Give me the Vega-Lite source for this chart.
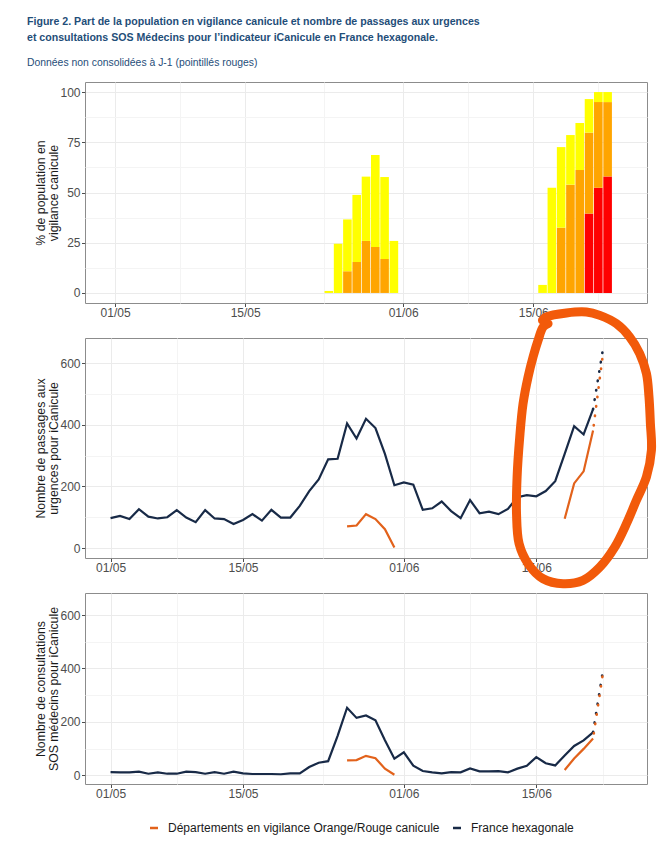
{
  "$schema": "https://vega.github.io/schema/vega-lite/v6.json",
  "padding": {"left": 27, "top": 16, "right": 5, "bottom": 5},
  "background": "white",
  "bounds": "flush",
  "spacing": 35,
  "title": {
    "text": [
      "Figure 2. Part de la population en vigilance canicule et nombre de passages aux urgences",
      "et consultations SOS Médecins pour l’indicateur iCanicule en France hexagonale."
    ],
    "subtitle": "Données non consolidées à J-1 (pointillés rouges)",
    "anchor": "start",
    "frame": "group",
    "dx": -58,
    "offset": 13,
    "font": "Liberation Sans",
    "fontSize": 10.6,
    "fontWeight": "bold",
    "color": "#1F4E79",
    "lineHeight": 16,
    "subtitleFont": "Liberation Sans",
    "subtitleFontSize": 10.4,
    "subtitleColor": "#1F4E79",
    "subtitlePadding": 15
  },
  "datasets": {
    "vigilance": [
      {"date": "2025-05-24", "niveau": "Jaune", "part": 1},
      {"date": "2025-05-25", "niveau": "Jaune", "part": 24.5},
      {"date": "2025-05-26", "niveau": "Orange", "part": 10.8},
      {"date": "2025-05-26", "niveau": "Jaune", "part": 25.8},
      {"date": "2025-05-27", "niveau": "Orange", "part": 15.4},
      {"date": "2025-05-27", "niveau": "Jaune", "part": 33.4},
      {"date": "2025-05-28", "niveau": "Orange", "part": 25.9},
      {"date": "2025-05-28", "niveau": "Jaune", "part": 32},
      {"date": "2025-05-29", "niveau": "Orange", "part": 22.9},
      {"date": "2025-05-29", "niveau": "Jaune", "part": 45.8},
      {"date": "2025-05-30", "niveau": "Orange", "part": 16.9},
      {"date": "2025-05-30", "niveau": "Jaune", "part": 40.8},
      {"date": "2025-05-31", "niveau": "Jaune", "part": 25.9},
      {"date": "2025-06-16", "niveau": "Jaune", "part": 4},
      {"date": "2025-06-17", "niveau": "Jaune", "part": 52.4},
      {"date": "2025-06-18", "niveau": "Orange", "part": 32.5},
      {"date": "2025-06-18", "niveau": "Jaune", "part": 40.1},
      {"date": "2025-06-19", "niveau": "Orange", "part": 53.9},
      {"date": "2025-06-19", "niveau": "Jaune", "part": 24.7},
      {"date": "2025-06-20", "niveau": "Orange", "part": 61.2},
      {"date": "2025-06-20", "niveau": "Jaune", "part": 23.4},
      {"date": "2025-06-21", "niveau": "Rouge", "part": 39.5},
      {"date": "2025-06-21", "niveau": "Orange", "part": 40.3},
      {"date": "2025-06-21", "niveau": "Jaune", "part": 16.7},
      {"date": "2025-06-22", "niveau": "Rouge", "part": 52.4},
      {"date": "2025-06-22", "niveau": "Orange", "part": 42.6},
      {"date": "2025-06-22", "niveau": "Jaune", "part": 5},
      {"date": "2025-06-23", "niveau": "Rouge", "part": 58},
      {"date": "2025-06-23", "niveau": "Orange", "part": 37},
      {"date": "2025-06-23", "niveau": "Jaune", "part": 5}
    ],
    "urgences": [
      {"date": "2025-05-01", "serie": "France hexagonale", "episode": "toute", "nombre": 97},
      {"date": "2025-05-02", "serie": "France hexagonale", "episode": "toute", "nombre": 104},
      {"date": "2025-05-03", "serie": "France hexagonale", "episode": "toute", "nombre": 94},
      {"date": "2025-05-04", "serie": "France hexagonale", "episode": "toute", "nombre": 126},
      {"date": "2025-05-05", "serie": "France hexagonale", "episode": "toute", "nombre": 102},
      {"date": "2025-05-06", "serie": "France hexagonale", "episode": "toute", "nombre": 96},
      {"date": "2025-05-07", "serie": "France hexagonale", "episode": "toute", "nombre": 100},
      {"date": "2025-05-08", "serie": "France hexagonale", "episode": "toute", "nombre": 123},
      {"date": "2025-05-09", "serie": "France hexagonale", "episode": "toute", "nombre": 99},
      {"date": "2025-05-10", "serie": "France hexagonale", "episode": "toute", "nombre": 84},
      {"date": "2025-05-11", "serie": "France hexagonale", "episode": "toute", "nombre": 123},
      {"date": "2025-05-12", "serie": "France hexagonale", "episode": "toute", "nombre": 96},
      {"date": "2025-05-13", "serie": "France hexagonale", "episode": "toute", "nombre": 94},
      {"date": "2025-05-14", "serie": "France hexagonale", "episode": "toute", "nombre": 78},
      {"date": "2025-05-15", "serie": "France hexagonale", "episode": "toute", "nombre": 91},
      {"date": "2025-05-16", "serie": "France hexagonale", "episode": "toute", "nombre": 110},
      {"date": "2025-05-17", "serie": "France hexagonale", "episode": "toute", "nombre": 89},
      {"date": "2025-05-18", "serie": "France hexagonale", "episode": "toute", "nombre": 124},
      {"date": "2025-05-19", "serie": "France hexagonale", "episode": "toute", "nombre": 99},
      {"date": "2025-05-20", "serie": "France hexagonale", "episode": "toute", "nombre": 99},
      {"date": "2025-05-21", "serie": "France hexagonale", "episode": "toute", "nombre": 137},
      {"date": "2025-05-22", "serie": "France hexagonale", "episode": "toute", "nombre": 185},
      {"date": "2025-05-23", "serie": "France hexagonale", "episode": "toute", "nombre": 223},
      {"date": "2025-05-24", "serie": "France hexagonale", "episode": "toute", "nombre": 288},
      {"date": "2025-05-25", "serie": "France hexagonale", "episode": "toute", "nombre": 290},
      {"date": "2025-05-26", "serie": "France hexagonale", "episode": "toute", "nombre": 405},
      {"date": "2025-05-27", "serie": "France hexagonale", "episode": "toute", "nombre": 356},
      {"date": "2025-05-28", "serie": "France hexagonale", "episode": "toute", "nombre": 420},
      {"date": "2025-05-29", "serie": "France hexagonale", "episode": "toute", "nombre": 390},
      {"date": "2025-05-30", "serie": "France hexagonale", "episode": "toute", "nombre": 306},
      {"date": "2025-05-31", "serie": "France hexagonale", "episode": "toute", "nombre": 204},
      {"date": "2025-06-01", "serie": "France hexagonale", "episode": "toute", "nombre": 213},
      {"date": "2025-06-02", "serie": "France hexagonale", "episode": "toute", "nombre": 206},
      {"date": "2025-06-03", "serie": "France hexagonale", "episode": "toute", "nombre": 124},
      {"date": "2025-06-04", "serie": "France hexagonale", "episode": "toute", "nombre": 129},
      {"date": "2025-06-05", "serie": "France hexagonale", "episode": "toute", "nombre": 151},
      {"date": "2025-06-06", "serie": "France hexagonale", "episode": "toute", "nombre": 120},
      {"date": "2025-06-07", "serie": "France hexagonale", "episode": "toute", "nombre": 97},
      {"date": "2025-06-08", "serie": "France hexagonale", "episode": "toute", "nombre": 156},
      {"date": "2025-06-09", "serie": "France hexagonale", "episode": "toute", "nombre": 113},
      {"date": "2025-06-10", "serie": "France hexagonale", "episode": "toute", "nombre": 118},
      {"date": "2025-06-11", "serie": "France hexagonale", "episode": "toute", "nombre": 110},
      {"date": "2025-06-12", "serie": "France hexagonale", "episode": "toute", "nombre": 127},
      {"date": "2025-06-13", "serie": "France hexagonale", "episode": "toute", "nombre": 165},
      {"date": "2025-06-14", "serie": "France hexagonale", "episode": "toute", "nombre": 172},
      {"date": "2025-06-15", "serie": "France hexagonale", "episode": "toute", "nombre": 168},
      {"date": "2025-06-16", "serie": "France hexagonale", "episode": "toute", "nombre": 185},
      {"date": "2025-06-17", "serie": "France hexagonale", "episode": "toute", "nombre": 217},
      {"date": "2025-06-18", "serie": "France hexagonale", "episode": "toute", "nombre": 306},
      {"date": "2025-06-19", "serie": "France hexagonale", "episode": "toute", "nombre": 396},
      {"date": "2025-06-20", "serie": "France hexagonale", "episode": "toute", "nombre": 369},
      {"date": "2025-06-21", "serie": "France hexagonale", "episode": "toute", "nombre": 451},
      {"date": "2025-05-26", "serie": "Départements en vigilance Orange/Rouge canicule", "episode": "mai", "nombre": 70},
      {"date": "2025-05-27", "serie": "Départements en vigilance Orange/Rouge canicule", "episode": "mai", "nombre": 73},
      {"date": "2025-05-28", "serie": "Départements en vigilance Orange/Rouge canicule", "episode": "mai", "nombre": 110},
      {"date": "2025-05-29", "serie": "Départements en vigilance Orange/Rouge canicule", "episode": "mai", "nombre": 94},
      {"date": "2025-05-30", "serie": "Départements en vigilance Orange/Rouge canicule", "episode": "mai", "nombre": 61},
      {"date": "2025-05-31", "serie": "Départements en vigilance Orange/Rouge canicule", "episode": "mai", "nombre": 2},
      {"date": "2025-06-18", "serie": "Départements en vigilance Orange/Rouge canicule", "episode": "juin", "nombre": 95},
      {"date": "2025-06-19", "serie": "Départements en vigilance Orange/Rouge canicule", "episode": "juin", "nombre": 210},
      {"date": "2025-06-20", "serie": "Départements en vigilance Orange/Rouge canicule", "episode": "juin", "nombre": 249},
      {"date": "2025-06-21", "serie": "Départements en vigilance Orange/Rouge canicule", "episode": "juin", "nombre": 382}
    ],
    "urgences_j1": [
      {"date": "2025-06-21", "serie": "France hexagonale", "nombre": 451},
      {"date": "2025-06-22", "serie": "France hexagonale", "nombre": 638},
      {"date": "2025-06-21", "serie": "Départements en vigilance Orange/Rouge canicule", "nombre": 382},
      {"date": "2025-06-22", "serie": "Départements en vigilance Orange/Rouge canicule", "nombre": 620}
    ],
    "sos": [
      {"date": "2025-05-01", "serie": "France hexagonale", "episode": "toute", "nombre": 12},
      {"date": "2025-05-02", "serie": "France hexagonale", "episode": "toute", "nombre": 11},
      {"date": "2025-05-03", "serie": "France hexagonale", "episode": "toute", "nombre": 11},
      {"date": "2025-05-04", "serie": "France hexagonale", "episode": "toute", "nombre": 14},
      {"date": "2025-05-05", "serie": "France hexagonale", "episode": "toute", "nombre": 6},
      {"date": "2025-05-06", "serie": "France hexagonale", "episode": "toute", "nombre": 11},
      {"date": "2025-05-07", "serie": "France hexagonale", "episode": "toute", "nombre": 6},
      {"date": "2025-05-08", "serie": "France hexagonale", "episode": "toute", "nombre": 6},
      {"date": "2025-05-09", "serie": "France hexagonale", "episode": "toute", "nombre": 14},
      {"date": "2025-05-10", "serie": "France hexagonale", "episode": "toute", "nombre": 12},
      {"date": "2025-05-11", "serie": "France hexagonale", "episode": "toute", "nombre": 6},
      {"date": "2025-05-12", "serie": "France hexagonale", "episode": "toute", "nombre": 12},
      {"date": "2025-05-13", "serie": "France hexagonale", "episode": "toute", "nombre": 6},
      {"date": "2025-05-14", "serie": "France hexagonale", "episode": "toute", "nombre": 14},
      {"date": "2025-05-15", "serie": "France hexagonale", "episode": "toute", "nombre": 7},
      {"date": "2025-05-16", "serie": "France hexagonale", "episode": "toute", "nombre": 5},
      {"date": "2025-05-17", "serie": "France hexagonale", "episode": "toute", "nombre": 5},
      {"date": "2025-05-18", "serie": "France hexagonale", "episode": "toute", "nombre": 5},
      {"date": "2025-05-19", "serie": "France hexagonale", "episode": "toute", "nombre": 4},
      {"date": "2025-05-20", "serie": "France hexagonale", "episode": "toute", "nombre": 7},
      {"date": "2025-05-21", "serie": "France hexagonale", "episode": "toute", "nombre": 7},
      {"date": "2025-05-22", "serie": "France hexagonale", "episode": "toute", "nombre": 31},
      {"date": "2025-05-23", "serie": "France hexagonale", "episode": "toute", "nombre": 47},
      {"date": "2025-05-24", "serie": "France hexagonale", "episode": "toute", "nombre": 53},
      {"date": "2025-05-25", "serie": "France hexagonale", "episode": "toute", "nombre": 148},
      {"date": "2025-05-26", "serie": "France hexagonale", "episode": "toute", "nombre": 253},
      {"date": "2025-05-27", "serie": "France hexagonale", "episode": "toute", "nombre": 215},
      {"date": "2025-05-28", "serie": "France hexagonale", "episode": "toute", "nombre": 224},
      {"date": "2025-05-29", "serie": "France hexagonale", "episode": "toute", "nombre": 206},
      {"date": "2025-05-30", "serie": "France hexagonale", "episode": "toute", "nombre": 131},
      {"date": "2025-05-31", "serie": "France hexagonale", "episode": "toute", "nombre": 62},
      {"date": "2025-06-01", "serie": "France hexagonale", "episode": "toute", "nombre": 86},
      {"date": "2025-06-02", "serie": "France hexagonale", "episode": "toute", "nombre": 36},
      {"date": "2025-06-03", "serie": "France hexagonale", "episode": "toute", "nombre": 16},
      {"date": "2025-06-04", "serie": "France hexagonale", "episode": "toute", "nombre": 11},
      {"date": "2025-06-05", "serie": "France hexagonale", "episode": "toute", "nombre": 7},
      {"date": "2025-06-06", "serie": "France hexagonale", "episode": "toute", "nombre": 12},
      {"date": "2025-06-07", "serie": "France hexagonale", "episode": "toute", "nombre": 11},
      {"date": "2025-06-08", "serie": "France hexagonale", "episode": "toute", "nombre": 26},
      {"date": "2025-06-09", "serie": "France hexagonale", "episode": "toute", "nombre": 15},
      {"date": "2025-06-10", "serie": "France hexagonale", "episode": "toute", "nombre": 15},
      {"date": "2025-06-11", "serie": "France hexagonale", "episode": "toute", "nombre": 16},
      {"date": "2025-06-12", "serie": "France hexagonale", "episode": "toute", "nombre": 11},
      {"date": "2025-06-13", "serie": "France hexagonale", "episode": "toute", "nombre": 25},
      {"date": "2025-06-14", "serie": "France hexagonale", "episode": "toute", "nombre": 36},
      {"date": "2025-06-15", "serie": "France hexagonale", "episode": "toute", "nombre": 68},
      {"date": "2025-06-16", "serie": "France hexagonale", "episode": "toute", "nombre": 45},
      {"date": "2025-06-17", "serie": "France hexagonale", "episode": "toute", "nombre": 37},
      {"date": "2025-06-18", "serie": "France hexagonale", "episode": "toute", "nombre": 74},
      {"date": "2025-06-19", "serie": "France hexagonale", "episode": "toute", "nombre": 110},
      {"date": "2025-06-20", "serie": "France hexagonale", "episode": "toute", "nombre": 131},
      {"date": "2025-06-21", "serie": "France hexagonale", "episode": "toute", "nombre": 161},
      {"date": "2025-05-26", "serie": "Départements en vigilance Orange/Rouge canicule", "episode": "mai", "nombre": 56},
      {"date": "2025-05-27", "serie": "Départements en vigilance Orange/Rouge canicule", "episode": "mai", "nombre": 57},
      {"date": "2025-05-28", "serie": "Départements en vigilance Orange/Rouge canicule", "episode": "mai", "nombre": 73},
      {"date": "2025-05-29", "serie": "Départements en vigilance Orange/Rouge canicule", "episode": "mai", "nombre": 64},
      {"date": "2025-05-30", "serie": "Départements en vigilance Orange/Rouge canicule", "episode": "mai", "nombre": 25},
      {"date": "2025-05-31", "serie": "Départements en vigilance Orange/Rouge canicule", "episode": "mai", "nombre": 2},
      {"date": "2025-06-18", "serie": "Départements en vigilance Orange/Rouge canicule", "episode": "juin", "nombre": 20},
      {"date": "2025-06-19", "serie": "Départements en vigilance Orange/Rouge canicule", "episode": "juin", "nombre": 63},
      {"date": "2025-06-20", "serie": "Départements en vigilance Orange/Rouge canicule", "episode": "juin", "nombre": 99},
      {"date": "2025-06-21", "serie": "Départements en vigilance Orange/Rouge canicule", "episode": "juin", "nombre": 138}
    ],
    "sos_j1": [
      {"date": "2025-06-21", "serie": "France hexagonale", "nombre": 161},
      {"date": "2025-06-22", "serie": "France hexagonale", "nombre": 382},
      {"date": "2025-06-21", "serie": "Départements en vigilance Orange/Rouge canicule", "nombre": 138},
      {"date": "2025-06-22", "serie": "Départements en vigilance Orange/Rouge canicule", "nombre": 372}
    ],
    "cercle": [
      {"k": 1, "date": "2025-06-15T15:36:00Z", "nombre": 740},
      {"k": 2, "date": "2025-06-16T01:41:00Z", "nombre": 751},
      {"k": 3, "date": "2025-06-18T04:34:00Z", "nombre": 764},
      {"k": 4, "date": "2025-06-20T07:12:00Z", "nombre": 767},
      {"k": 5, "date": "2025-06-21T17:02:00Z", "nombre": 756},
      {"k": 6, "date": "2025-06-23T11:17:00Z", "nombre": 729},
      {"k": 7, "date": "2025-06-24T20:53:00Z", "nombre": 686},
      {"k": 8, "date": "2025-06-25T22:19:00Z", "nombre": 632},
      {"k": 9, "date": "2025-06-26T15:22:00Z", "nombre": 567},
      {"k": 10, "date": "2025-06-26T21:50:00Z", "nombre": 491},
      {"k": 11, "date": "2025-06-27T01:26:00Z", "nombre": 404},
      {"k": 12, "date": "2025-06-27T04:05:00Z", "nombre": 318},
      {"k": 13, "date": "2025-06-26T15:22:00Z", "nombre": 231},
      {"k": 14, "date": "2025-06-25T13:55:00Z", "nombre": 155},
      {"k": 15, "date": "2025-06-24T12:43:00Z", "nombre": 79},
      {"k": 16, "date": "2025-06-23T06:58:00Z", "nombre": 3},
      {"k": 17, "date": "2025-06-21T17:02:00Z", "nombre": -62},
      {"k": 18, "date": "2025-06-19T22:34:00Z", "nombre": -105},
      {"k": 19, "date": "2025-06-17T19:55:00Z", "nombre": -116},
      {"k": 20, "date": "2025-06-15T17:17:00Z", "nombre": -100},
      {"k": 21, "date": "2025-06-14T03:07:00Z", "nombre": -51},
      {"k": 22, "date": "2025-06-13T04:19:00Z", "nombre": 14},
      {"k": 23, "date": "2025-06-12T21:50:00Z", "nombre": 112},
      {"k": 24, "date": "2025-06-12T23:17:00Z", "nombre": 231},
      {"k": 25, "date": "2025-06-13T06:00:00Z", "nombre": 361},
      {"k": 26, "date": "2025-06-13T14:24:00Z", "nombre": 469},
      {"k": 27, "date": "2025-06-14T03:07:00Z", "nombre": 556},
      {"k": 28, "date": "2025-06-14T15:50:00Z", "nombre": 621},
      {"k": 29, "date": "2025-06-15T04:34:00Z", "nombre": 675},
      {"k": 30, "date": "2025-06-15T17:17:00Z", "nombre": 718},
      {"k": 31, "date": "2025-06-16T05:46:00Z", "nombre": 729}
    ]
  },
  "vconcat": [
    {
      "width": 562,
      "height": 221,
      "data": {"name": "vigilance"},
      "mark": {"type": "bar", "size": 8.6},
      "encoding": {
        "x": {
          "field": "date", "type": "temporal",
          "scale": {"type": "utc", "domain": [
            {"year": 2025, "month": 4, "date": 28, "hours": 7, "minutes": 12, "utc": true},
            {"year": 2025, "month": 6, "date": 26, "hours": 16, "minutes": 48, "utc": true}]},
          "axis": {
            "title": null,
            "values": [
              {"year": 2025, "month": 5, "date": 1, "utc": true},
              {"year": 2025, "month": 5, "date": 8, "utc": true},
              {"year": 2025, "month": 5, "date": 15, "utc": true},
              {"year": 2025, "month": 5, "date": 23, "hours": 12, "utc": true},
              {"year": 2025, "month": 6, "date": 1, "utc": true},
              {"year": 2025, "month": 6, "date": 8, "utc": true},
              {"year": 2025, "month": 6, "date": 15, "utc": true},
              {"year": 2025, "month": 6, "date": 22, "utc": true}],
            "labelExpr": "(utcdate(datum.value) == 1 || utcdate(datum.value) == 15) ? utcFormat(datum.value, '%d/%m') : ''",
            "gridColor": {"condition": {"test": "utcdate(datum.value) == 1 || utcdate(datum.value) == 15", "value": "#EBEBEB"}, "value": "#F4F4F4"},
            "tickOpacity": {"condition": {"test": "utcdate(datum.value) == 1 || utcdate(datum.value) == 15", "value": 1}, "value": 0}
          }
        },
        "y": {
          "field": "part", "type": "quantitative", "stack": "zero",
          "scale": {"domain": [-5, 105], "nice": false, "zero": false},
          "axis": {
            "title": ["% de population en", "vigilance canicule"],
            "values": [0, 12.5, 25, 37.5, 50, 62.5, 75, 87.5, 100],
            "labelExpr": "datum.value % 25 == 0 ? datum.label : ''",
            "gridColor": {"condition": {"test": "datum.value % 25 == 0", "value": "#EBEBEB"}, "value": "#F4F4F4"},
            "tickOpacity": {"condition": {"test": "datum.value % 25 == 0", "value": 1}, "value": 0}
          }
        },
        "fill": {
          "field": "niveau", "type": "nominal", "legend": null,
          "sort": ["Rouge", "Orange", "Jaune"],
          "scale": {"domain": ["Rouge", "Orange", "Jaune"], "range": ["#FF0000", "#FFA500", "#FFFF00"]}
        }
      }
    },
    {
      "width": 562,
      "height": 220,
      "encoding": {
        "x": {
          "field": "date", "type": "temporal",
          "scale": {"type": "utc", "domain": [
            {"year": 2025, "month": 4, "date": 28, "hours": 7, "minutes": 12, "utc": true},
            {"year": 2025, "month": 6, "date": 26, "hours": 16, "minutes": 48, "utc": true}]},
          "axis": {
            "title": null,
            "values": [
              {"year": 2025, "month": 5, "date": 1, "utc": true},
              {"year": 2025, "month": 5, "date": 8, "utc": true},
              {"year": 2025, "month": 5, "date": 15, "utc": true},
              {"year": 2025, "month": 5, "date": 23, "hours": 12, "utc": true},
              {"year": 2025, "month": 6, "date": 1, "utc": true},
              {"year": 2025, "month": 6, "date": 8, "utc": true},
              {"year": 2025, "month": 6, "date": 15, "utc": true},
              {"year": 2025, "month": 6, "date": 22, "utc": true}],
            "labelExpr": "(utcdate(datum.value) == 1 || utcdate(datum.value) == 15) ? utcFormat(datum.value, '%d/%m') : ''",
            "gridColor": {"condition": {"test": "utcdate(datum.value) == 1 || utcdate(datum.value) == 15", "value": "#EBEBEB"}, "value": "#F4F4F4"},
            "tickOpacity": {"condition": {"test": "utcdate(datum.value) == 1 || utcdate(datum.value) == 15", "value": 1}, "value": 0}
          }
        },
        "y": {
          "field": "nombre", "type": "quantitative",
          "scale": {"domain": [-32.5, 682.5], "nice": false, "zero": false},
          "axis": {
            "title": ["Nombre de passages aux", "urgences pour iCanicule"],
            "values": [0, 100, 200, 300, 400, 500, 600],
            "labelExpr": "datum.value % 200 == 0 ? datum.label : ''",
            "gridColor": {"condition": {"test": "datum.value % 200 == 0", "value": "#EBEBEB"}, "value": "#F4F4F4"},
            "tickOpacity": {"condition": {"test": "datum.value % 200 == 0", "value": 1}, "value": 0}
          }
        }
      },
      "layer": [
        {
          "data": {"name": "urgences"},
          "mark": {"type": "line", "strokeWidth": 2.2},
          "encoding": {
            "color": {
              "field": "serie", "type": "nominal",
              "scale": {"domain": ["Départements en vigilance Orange/Rouge canicule", "France hexagonale"], "range": ["#E2621B", "#182A47"]},
              "legend": {"orient": "none", "direction": "horizontal", "legendX": 63, "legendY": 740, "title": null}
            },
            "detail": {"field": "episode"}
          }
        },
        {
          "data": {"name": "urgences_j1"},
          "transform": [{"filter": "datum.serie == 'France hexagonale'"}],
          "mark": {"type": "line", "color": "#182A47", "strokeWidth": 2.6, "strokeDash": [0.5, 9], "strokeCap": "round"},
          "encoding": {}
        },
        {
          "data": {"name": "urgences_j1"},
          "transform": [{"filter": "datum.serie != 'France hexagonale'"}],
          "mark": {"type": "line", "color": "#E2621B", "strokeWidth": 2.6, "strokeDash": [0.5, 9], "strokeDashOffset": 4.5, "strokeCap": "round"},
          "encoding": {}
        },
        {
          "data": {"name": "cercle"},
          "mark": {"type": "line", "color": "#F25A0A", "strokeWidth": 9, "clip": false, "interpolate": "catmull-rom", "strokeCap": "round", "strokeJoin": "round"},
          "encoding": {"order": {"field": "k", "type": "quantitative"}}
        }
      ]
    },
    {
      "width": 562,
      "height": 191,
      "encoding": {
        "x": {
          "field": "date", "type": "temporal",
          "scale": {"type": "utc", "domain": [
            {"year": 2025, "month": 4, "date": 28, "hours": 7, "minutes": 12, "utc": true},
            {"year": 2025, "month": 6, "date": 26, "hours": 16, "minutes": 48, "utc": true}]},
          "axis": {
            "title": null,
            "values": [
              {"year": 2025, "month": 5, "date": 1, "utc": true},
              {"year": 2025, "month": 5, "date": 8, "utc": true},
              {"year": 2025, "month": 5, "date": 15, "utc": true},
              {"year": 2025, "month": 5, "date": 23, "hours": 12, "utc": true},
              {"year": 2025, "month": 6, "date": 1, "utc": true},
              {"year": 2025, "month": 6, "date": 8, "utc": true},
              {"year": 2025, "month": 6, "date": 15, "utc": true},
              {"year": 2025, "month": 6, "date": 22, "utc": true}],
            "labelExpr": "(utcdate(datum.value) == 1 || utcdate(datum.value) == 15) ? utcFormat(datum.value, '%d/%m') : ''",
            "gridColor": {"condition": {"test": "utcdate(datum.value) == 1 || utcdate(datum.value) == 15", "value": "#EBEBEB"}, "value": "#F4F4F4"},
            "tickOpacity": {"condition": {"test": "utcdate(datum.value) == 1 || utcdate(datum.value) == 15", "value": 1}, "value": 0}
          }
        },
        "y": {
          "field": "nombre", "type": "quantitative",
          "scale": {"domain": [-32.5, 682.5], "nice": false, "zero": false},
          "axis": {
            "title": ["Nombre de consultations", "SOS médecins pour iCanicule"],
            "values": [0, 100, 200, 300, 400, 500, 600],
            "labelExpr": "datum.value % 200 == 0 ? datum.label : ''",
            "gridColor": {"condition": {"test": "datum.value % 200 == 0", "value": "#EBEBEB"}, "value": "#F4F4F4"},
            "tickOpacity": {"condition": {"test": "datum.value % 200 == 0", "value": 1}, "value": 0}
          }
        }
      },
      "layer": [
        {
          "data": {"name": "sos"},
          "mark": {"type": "line", "strokeWidth": 2.2},
          "encoding": {
            "color": {
              "field": "serie", "type": "nominal",
              "scale": {"domain": ["Départements en vigilance Orange/Rouge canicule", "France hexagonale"], "range": ["#E2621B", "#182A47"]},
              "legend": {"orient": "none", "direction": "horizontal", "legendX": 63, "legendY": 740, "title": null}
            },
            "detail": {"field": "episode"}
          }
        },
        {
          "data": {"name": "sos_j1"},
          "transform": [{"filter": "datum.serie == 'France hexagonale'"}],
          "mark": {"type": "line", "color": "#182A47", "strokeWidth": 2.6, "strokeDash": [0.5, 9], "strokeCap": "round"},
          "encoding": {}
        },
        {
          "data": {"name": "sos_j1"},
          "transform": [{"filter": "datum.serie != 'France hexagonale'"}],
          "mark": {"type": "line", "color": "#E2621B", "strokeWidth": 2.6, "strokeDash": [0.5, 9], "strokeDashOffset": 4.5, "strokeCap": "round"},
          "encoding": {}
        }
      ]
    }
  ],
  "resolve": {"scale": {"color": "shared"}, "legend": {"color": "shared"}},
  "config": {
    "font": "Liberation Sans",
    "view": {"stroke": "#8C8C8C", "strokeWidth": 1},
    "axis": {
      "domain": false,
      "labelFont": "Liberation Sans",
      "labelFontSize": 12,
      "labelColor": "#4D4D4D",
      "labelPadding": 1,
      "tickColor": "#4D4D4D",
      "tickSize": 3.5,
      "titleFont": "Liberation Sans",
      "titleFontSize": 12.3,
      "titleFontWeight": "normal",
      "titleColor": "#1A1A1A",
      "titleLineHeight": 13,
      "titlePadding": -1
    },
    "axisY": {"labelPadding": 1.5},
    "legend": {
      "symbolType": "stroke",
      "symbolSize": 64,
      "symbolStrokeWidth": 2.5,
      "labelFont": "Liberation Sans",
      "labelFontSize": 12,
      "labelColor": "#1A1A1A",
      "labelOffset": 8,
      "labelLimit": 400,
      "columnPadding": 8
    }
  }
}
